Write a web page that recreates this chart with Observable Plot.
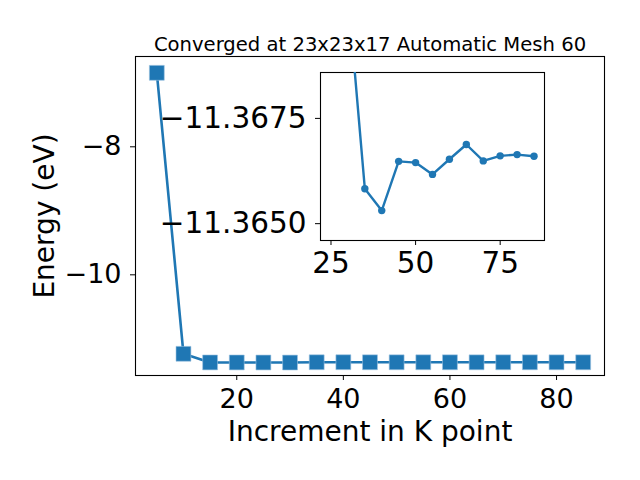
<!DOCTYPE html>
<html>
<head>
<meta charset="utf-8">
<script src="https://cdn.jsdelivr.net/npm/d3@7"></script>
<script src="https://cdn.jsdelivr.net/npm/@observablehq/plot@0.6"></script>
<style>
  body { margin: 0; background: white; }
  #wrap { position: relative; width: 640px; height: 480px; font-family: "DejaVu Sans", sans-serif; }
  #wrap svg { position: absolute; left: 0; top: 0; }
</style>
</head>
<body>
<div id="wrap"></div>
<script>
// K-point increments and total energies (eV)
const kPoints = [5, 10, 15, 20, 25, 30, 35, 40, 45, 50, 55, 60, 65, 70, 75, 80, 85];
const energies = [-6.844, -11.234, -11.369, -11.3692, -11.3698, -11.3705, -11.36583, -11.36531,
  -11.36648, -11.36645, -11.36617, -11.36653, -11.36688, -11.36649, -11.36661, -11.36664, -11.3666];
const mainXTicks = [20, 40, 60, 80];
const mainYTicks = [-8, -10];
const insetXTicks = [25, 50, 75];
const insetYTicks = [-11.3675, -11.365];
const titleText = "Converged at 23x23x17 Automatic Mesh 60";
const xLabel = "Increment in K point";
const yLabel = "Energy (eV)";

const data = kPoints.map((k, i) => ({k, e: energies[i]}));
const blue = "#1f77b4";
const font = "DejaVu Sans";
const minus = (s) => "\u2212" + s;

const main = Plot.plot({
  width: 640, height: 480,
  marginLeft: 135, marginRight: 36, marginTop: 56, marginBottom: 105,
  style: {fontFamily: font, background: "white", color: "black"},
  x: {domain: [1, 89]},
  y: {domain: [-11.573, -6.589]},
  marks: [
    Plot.frame({stroke: "black", strokeWidth: 1.1}),
    Plot.line(data, {x: "k", y: "e", stroke: blue, strokeWidth: 2.6}),
    Plot.dot(data, {x: "k", y: "e", symbol: "square", r: 8.4, fill: blue, stroke: "#9cc3e0", strokeWidth: 0.6}),
    Plot.axisX(mainXTicks, {tickSize: 5, tickPadding: 8, fontSize: 27, label: null, tickFormat: d => String(d)}),
    Plot.axisY(mainYTicks, {tickSize: 5, tickPadding: 9, fontSize: 27, label: null, tickFormat: d => minus(Math.abs(d))}),
    Plot.text([titleText], {text: d => d, frameAnchor: "top", lineAnchor: "bottom", dy: -6, fontSize: 19.6}),
    Plot.text([xLabel], {text: d => d, frameAnchor: "bottom", lineAnchor: "bottom", dy: 65, fontSize: 28}),
    Plot.text([yLabel], {text: d => d, frameAnchor: "left", textAnchor: "middle", rotate: -90, dx: -90, fontSize: 28})
  ]
});

const inset = Plot.plot({
  width: 640, height: 480,
  marginLeft: 320, marginRight: 96, marginTop: 72, marginBottom: 240,
  style: {fontFamily: font, background: "transparent", color: "black"},
  x: {domain: [21.9, 88.1]},
  y: {domain: [-11.3646, -11.36859]},
  marks: [
    Plot.frame({fill: "white", stroke: "black", strokeWidth: 1.1}),
    Plot.line(data, {x: "k", y: "e", stroke: blue, strokeWidth: 2.4, clip: true}),
    Plot.dot(data, {x: "k", y: "e", r: 3.7, fill: blue, clip: true}),
    Plot.axisX(insetXTicks, {tickSize: 5, tickPadding: 7, fontSize: 29.5, label: null, tickFormat: d => String(d)}),
    Plot.axisY(insetYTicks, {tickSize: 5, tickPadding: 9, fontSize: 29.5, label: null, tickFormat: d => minus(Math.abs(d).toFixed(4))})
  ]
});

const wrap = document.getElementById("wrap");
wrap.appendChild(main);
wrap.appendChild(inset);
</script>
</body>
</html>
